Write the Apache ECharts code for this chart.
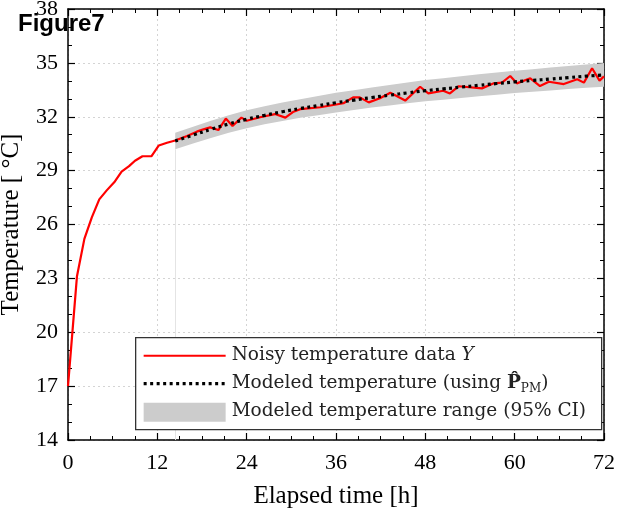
<!DOCTYPE html>
<html>
<head>
<meta charset="utf-8">
<script src="https://cdn.jsdelivr.net/npm/echarts@6/dist/echarts.min.js"></script>
<style>html,body{margin:0;padding:0;background:#fff;}#c{width:622px;height:511px;}</style>
</head>
<body>
<div id="c"></div>
<script>
// Noisy measured temperature (time [h], temperature [°C])
const noisyTime = [0, 1.2, 2.2, 3.2, 4.2, 5.2, 6.3, 7.2, 8.2, 9.0, 10.0, 11.2, 12.2, 13.3, 14.4, 16.0, 17.3, 18.2, 19.1, 20.2, 21.2, 22.1, 23.3, 24.0, 25.8, 27.8, 29.2, 30.3, 31.2, 33.9, 37.0, 38.3, 39.2, 40.4, 41.9, 43.3, 45.3, 47.3, 48.4, 50.4, 51.3, 52.5, 55.6, 57.2, 58.3, 59.4, 60.3, 62.1, 63.4, 64.6, 66.6, 68.4, 69.3, 70.4, 71.4, 72.0];
const noisyTemp = [17.0, 23.1, 25.2, 26.4, 27.4, 27.9, 28.4, 28.95, 29.25, 29.55, 29.8, 29.8, 30.4, 30.55, 30.68, 30.93, 31.17, 31.3, 31.41, 31.26, 31.9, 31.49, 31.95, 31.78, 31.97, 32.15, 31.95, 32.28, 32.42, 32.53, 32.75, 33.08, 33.08, 32.8, 33.03, 33.34, 32.9, 33.67, 33.3, 33.45, 33.3, 33.7, 33.58, 33.86, 33.9, 34.27, 33.86, 34.14, 33.71, 33.95, 33.82, 34.09, 33.9, 34.7, 34.01, 34.25];

// Modeled temperature and its 95% CI
const modelTime = [14.4, 16.8, 19.2, 21.6, 24, 26.4, 28.8, 31.2, 33.6, 36, 38.4, 40.8, 43.2, 45.6, 48, 50.4, 52.8, 55.2, 57.6, 60, 62.4, 64.8, 67.2, 69.6, 72];
const modelTemp = [30.65, 30.98, 31.3, 31.6, 31.86, 32.08, 32.28, 32.46, 32.62, 32.78, 32.93, 33.07, 33.2, 33.33, 33.45, 33.55, 33.65, 33.75, 33.85, 33.94, 34.02, 34.1, 34.18, 34.26, 34.33];
const ciLower = [30.19, 30.51, 30.82, 31.11, 31.36, 31.58, 31.77, 31.94, 32.09, 32.23, 32.38, 32.51, 32.63, 32.75, 32.86, 32.95, 33.05, 33.14, 33.23, 33.32, 33.39, 33.46, 33.54, 33.61, 33.67];
const ciUpper = [31.11, 31.45, 31.78, 32.09, 32.36, 32.58, 32.79, 32.98, 33.15, 33.33, 33.48, 33.63, 33.77, 33.91, 34.04, 34.15, 34.25, 34.36, 34.47, 34.56, 34.65, 34.74, 34.82, 34.91, 34.99];

// Axis settings
const xMin = 0, xMax = 72, xStep = 12;
const yMin = 14, yMax = 38, yStep = 3;

const legendLabels = ['Noisy temperature data ', 'Modeled temperature (using ', 'Modeled temperature range (95% CI)'];

const chart = echarts.init(document.getElementById('c'), null, {renderer: 'canvas'});
const serif = 'Liberation Serif';
const legendFont = 'DejaVu Serif';

function axisCommon(showLabel) {
  return {
    axisLine: {show: true, onZero: false, lineStyle: {color: '#000', width: 1.5}},
    axisTick: {show: true, inside: true, length: 7, lineStyle: {color: '#000', width: 1.2}},
    minorTick: {show: true, splitNumber: 3, length: 4, lineStyle: {color: '#000', width: 1}},
    axisLabel: {show: showLabel, color: '#000', fontFamily: serif, fontSize: 22},
  };
}

const bandData = modelTime.map((t, i) => [t, ciLower[i], ciUpper[i]]);

const option = {
  animation: false,
  backgroundColor: '#fff',
  title: {
    text: 'Figure7', left: 13, top: 7, z: 50,
    textStyle: {fontFamily: 'Liberation Sans', fontWeight: 'bold', fontSize: 24, color: '#000'}
  },
  grid: {left: 68, right: 18, top: 9, bottom: 71, containLabel: false, outerBoundsMode: 'none'},
  xAxis: [
    Object.assign(axisCommon(true), {
      type: 'value', min: xMin, max: xMax, interval: xStep, position: 'bottom',
      name: 'Elapsed time [h]', nameLocation: 'middle', nameGap: 44,
      nameTextStyle: {fontFamily: serif, fontSize: 25, color: '#000'},
      splitLine: {show: true, lineStyle: {color: '#d4d4d4', type: [2, 3], width: 1}},
      minorTick: {show: true, splitNumber: 4, length: 4, lineStyle: {color: '#000', width: 1}},
      axisLabel: {show: true, color: '#000', fontFamily: serif, fontSize: 22, margin: 12}
    }),
    Object.assign(axisCommon(false), {
      type: 'value', min: xMin, max: xMax, interval: xStep, position: 'top',
      splitLine: {show: false},
      minorTick: {show: true, splitNumber: 4, length: 4, lineStyle: {color: '#000', width: 1}}
    })
  ],
  yAxis: [
    Object.assign(axisCommon(true), {
      type: 'value', min: yMin, max: yMax, interval: yStep, position: 'left',
      name: 'Temperature [ °C]', nameLocation: 'middle', nameGap: 44, nameRotate: 90,
      nameTextStyle: {fontFamily: serif, fontSize: 25, color: '#000'},
      splitLine: {show: true, lineStyle: {color: '#d4d4d4', type: [2, 3], width: 1}},
      axisLabel: {show: true, color: '#000', fontFamily: serif, fontSize: 22, margin: 10}
    }),
    Object.assign(axisCommon(false), {
      type: 'value', min: yMin, max: yMax, interval: yStep, position: 'right',
      splitLine: {show: false}
    })
  ],
  series: [
    {
      type: 'custom',
      name: 'ci',
      clip: true,
      z: 1,
      data: bandData,
      renderItem: function (params, api) {
        if (params.dataIndex !== 0) return null;
        const pts = [];
        for (let i = 0; i < bandData.length; i++) pts.push(api.coord([bandData[i][0], bandData[i][2]]));
        for (let i = bandData.length - 1; i >= 0; i--) pts.push(api.coord([bandData[i][0], bandData[i][1]]));
        return {type: 'polygon', shape: {points: pts}, style: {fill: '#cccccc', stroke: null}};
      },
      markLine: {
        silent: true, symbol: 'none', label: {show: false},
        lineStyle: {color: '#e4e4e4', width: 1, type: 'solid'},
        data: [[{coord: [modelTime[0], yMin]}, {coord: [modelTime[0], ciLower[0]]}]]
      }
    },
    {
      type: 'line', name: 'noisy', z: 3,
      data: noisyTime.map((t, i) => [t, noisyTemp[i]]),
      showSymbol: false, symbol: 'none',
      lineStyle: {color: '#ff0000', width: 2.2},
      clip: true
    },
    {
      type: 'line', name: 'model', z: 4,
      data: modelTime.map((t, i) => [t, modelTemp[i]]),
      showSymbol: false, symbol: 'none', smooth: true,
      lineStyle: {color: '#000', width: 3.2, type: [3, 3.5], cap: 'butt'},
      clip: true
    }
  ],
  graphic: [
    {
      type: 'group', left: 135, top: 337, z: 100,
      children: [
        {type: 'rect', z: 100, shape: {x: 0, y: 0, width: 466, height: 92}, style: {fill: '#fff', stroke: '#333', lineWidth: 1.3}},
        {type: 'line', z: 101, shape: {x1: 8, y1: 18, x2: 90, y2: 18}, style: {stroke: '#ff0000', lineWidth: 2}},
        {type: 'line', z: 101, shape: {x1: 8, y1: 46, x2: 90, y2: 46}, style: {stroke: '#000', lineWidth: 3.2, lineDash: [3, 3.5]}},
        {type: 'rect', z: 101, shape: {x: 8, y: 65, width: 82, height: 19}, style: {fill: '#cccccc'}},
        {type: 'text', z: 101, x: 96, y: 18, style: {
          text: legendLabels[0] + '{i|Y}', fontFamily: legendFont, fontSize: 18.5, fill: '#222', verticalAlign: 'middle',
          rich: {i: {fontFamily: legendFont, fontStyle: 'italic', fontSize: 18.5, fill: '#222'}}
        }},
        {type: 'text', z: 101, x: 96, y: 46, style: {
          text: legendLabels[1] + '{b|P\u0302}{s|PM}{n|)}', fontFamily: legendFont, fontSize: 18.5, fill: '#222', verticalAlign: 'middle',
          rich: {
            b: {fontFamily: legendFont, fontWeight: 'bold', fontSize: 18.5, fill: '#222'},
            s: {fontFamily: legendFont, fontSize: 12, fill: '#222', verticalAlign: 'bottom', padding: [10, 0, 0, 0]},
            n: {fontFamily: legendFont, fontSize: 18.5, fill: '#222'}
          }
        }},
        {type: 'text', z: 101, x: 96, y: 74, style: {
          text: legendLabels[2], fontFamily: legendFont, fontSize: 18.5, fill: '#222', verticalAlign: 'middle'
        }}
      ]
    }
  ]
};
chart.setOption(option);
</script>
</body>
</html>
